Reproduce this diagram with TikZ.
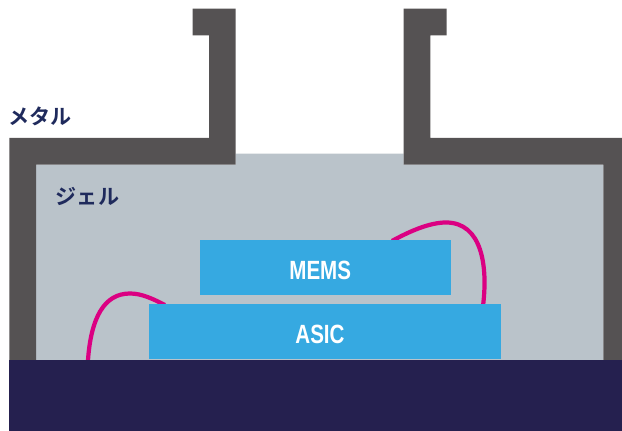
\documentclass[tikz,border=0pt]{standalone}
\usepackage{fontspec}
\setsansfont[FakeStretch=0.78]{Liberation Sans}
\newfontfamily\jpfont{Noto Sans CJK JP Bold}
\definecolor{metalgray}{HTML}{555253}
\definecolor{gelgray}{HTML}{BAC3CA}
\definecolor{chipblue}{HTML}{36A9E1}
\definecolor{basenavy}{HTML}{25204F}
\definecolor{wirepink}{HTML}{DB0082}
\definecolor{labelnavy}{HTML}{1F2A5C}
\tikzset{
  chip/.style={fill=chipblue,text=white,minimum height=1.1cm,inner sep=0pt,
    text height=13.6pt,text depth=0pt,
    font=\sffamily\bfseries\fontsize{15}{15}\selectfont},
  wire/.style={draw=wirepink,line width=2.4pt},
  partlabel/.style={text=labelnavy,inner sep=0pt,font=\jpfont\fontsize{12}{12}\selectfont}
}
\begin{document}
\begin{tikzpicture}[x=0.02cm,y=0.02cm]
\useasboundingbox (0,0) rectangle (622,431);
% gel
\fill[gelgray] (36,71)--(36,266.3)--(235.7,266.3)--(235.7,277.3)--(403.7,277.3)
--(403.7,266.3)--(603.3,266.3)--(603.3,71)--cycle;
% metal
\fill[metalgray] (9.3,71)--(9.3,293)--(209,293)--(209,395.7)--(192.7,395.7)--(192.7,422.3)
--(235.7,422.3)--(235.7,266.3)--(36,266.3)--(36,71)--cycle;
\fill[metalgray] (622,71)--(622,293)--(430.3,293)--(430.3,395.7)--(446.7,395.7)--(446.7,422.3)
--(403.7,422.3)--(403.7,266.3)--(603.3,266.3)--(603.3,71)--cycle;
\coordinate (padl) at (88,71);
\coordinate (topl) at (130,137.5);
\coordinate (asicl) at (165,126);
\coordinate (memsr) at (392,190);
\coordinate (topr) at (446,208.5);
\coordinate (asicr) at (483,125);
\draw[wire] (padl) .. controls (91,113) and (104,137.5) .. (topl)
.. controls (142,137.5) and (153,132) .. (asicl);
\draw[wire] (memsr) .. controls (410,200) and (430,208.5) .. (topr)
.. controls (482,208.5) and (488,165) .. (asicr);
\node[chip,minimum width=5.02cm] (mems) at (325.5,163.5) {MEMS\kern6pt};
\node[chip,minimum width=7.04cm] (asic) at (325,99.5) {ASIC\kern5.7pt};
\fill[basenavy] (9,0) rectangle (622,71);
\node[partlabel] (metal) at (40,315) {メタル};
\node[partlabel] (gel) at (87.5,235) {ジェル};
\end{tikzpicture}
\end{document}
